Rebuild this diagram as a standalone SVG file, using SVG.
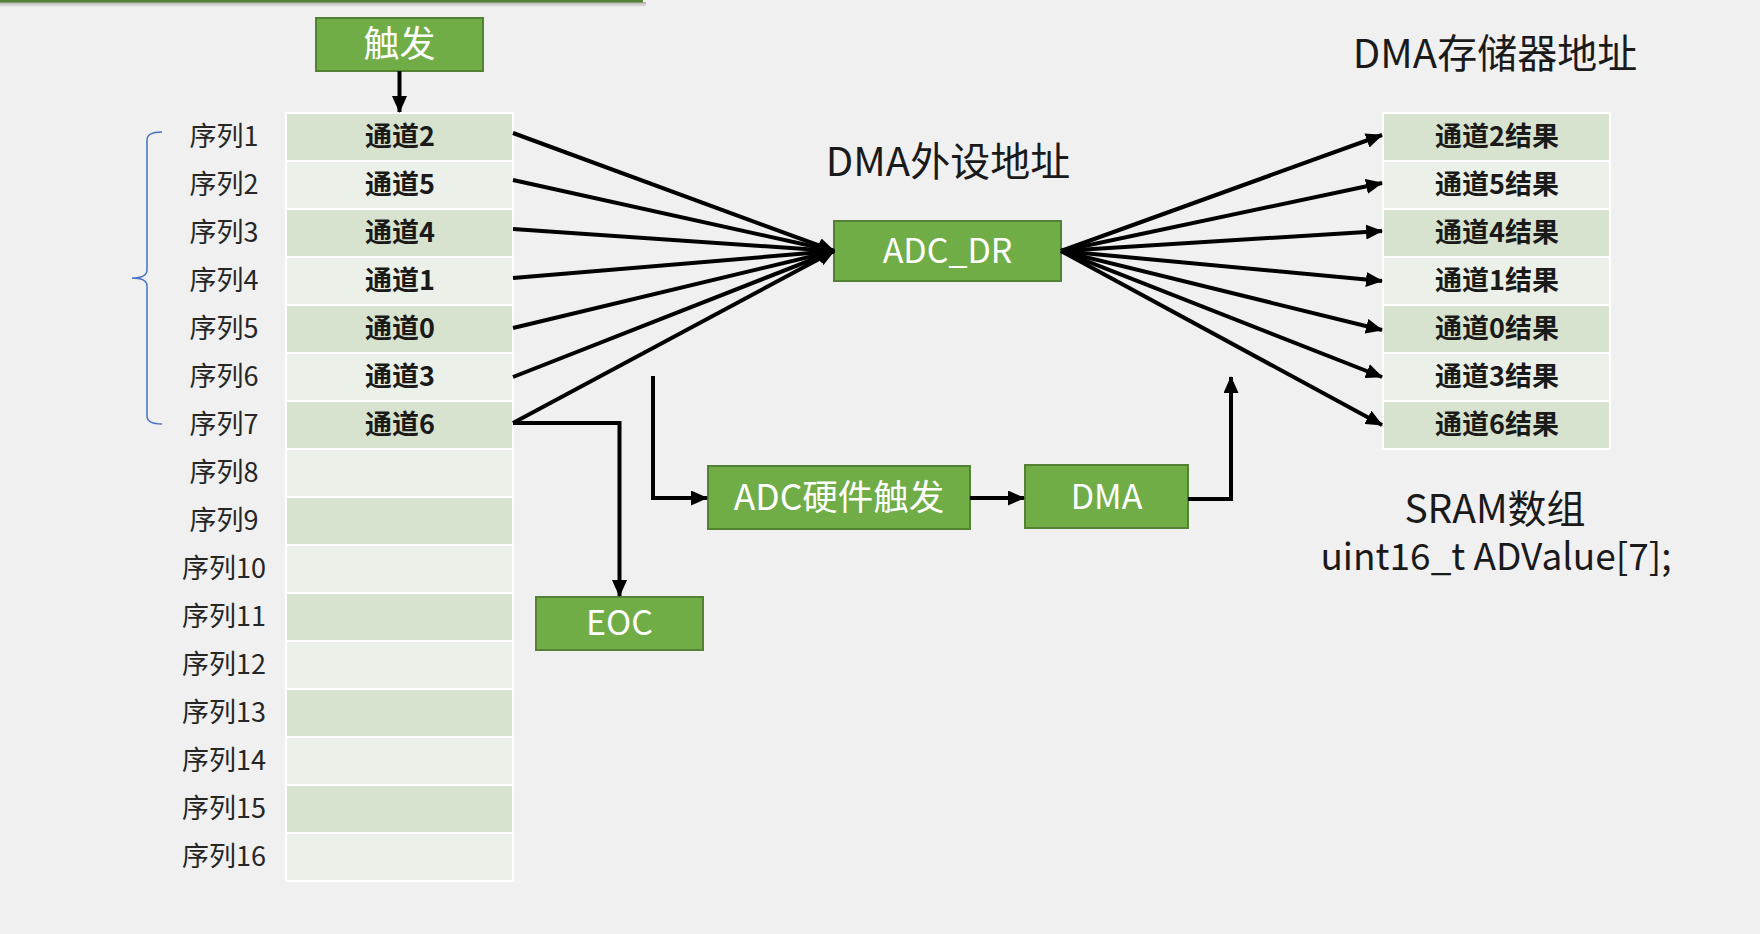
<svg xmlns="http://www.w3.org/2000/svg" width="1760" height="934" viewBox="0 0 1760 934">
<style>
.bg{fill:#F0F0F0}
.d{fill:#D7E3CF;stroke:#FFFFFF;stroke-width:2}
.l{fill:#EBF1E8;stroke:#FFFFFF;stroke-width:2}
.box{fill:#70AD47;stroke:#548235;stroke-width:2}
.bt{font-family:"Noto Sans CJK SC","Liberation Sans",sans-serif;font-size:34px;fill:#FFFFFF;text-anchor:middle}
.seq{font-family:"Noto Sans CJK SC","Liberation Sans",sans-serif;font-size:27px;fill:#262626;text-anchor:middle}
.ch{font-family:"Noto Sans CJK SC","Liberation Sans",sans-serif;font-size:27px;font-weight:bold;fill:#1A1A1A;text-anchor:middle}
.ttl{font-family:"Noto Sans CJK SC","Liberation Sans",sans-serif;font-size:40px;fill:#1A1A1A;text-anchor:middle}
.sr{font-family:"Noto Sans CJK SC","Liberation Sans",sans-serif;font-size:39px;fill:#1A1A1A;text-anchor:middle}
.ln{stroke:#000000;stroke-width:4;fill:none;marker-end:url(#ah)}
</style>
<defs>
<marker id="ah" markerUnits="userSpaceOnUse" markerWidth="17" markerHeight="15" viewBox="0 0 17 15" refX="16" refY="7.5" orient="auto">
<path d="M0,0 L17,7.5 L0,15 Z" fill="#000000"/>
</marker>
<linearGradient id="sh" x1="0" y1="0" x2="0" y2="1">
<stop offset="0" stop-color="#7F7F7F" stop-opacity="0.6"/>
<stop offset="1" stop-color="#7F7F7F" stop-opacity="0"/>
</linearGradient>
</defs>
<rect class="bg" x="0" y="0" width="1760" height="934"/>
<g id="topbar">
<rect x="0" y="2" width="646" height="5" fill="url(#sh)"/>
<rect x="0" y="0" width="643" height="2.5" fill="#548235"/>
</g>

<g id="brace">
<path d="M162,132 Q147,132 147,140 L147,270 Q147,278 132,278 Q147,278 147,286 L147,416 Q147,424 162,424" fill="none" stroke="#4472C4" stroke-width="1.5"/>
</g>

<g id="seq-table">
<rect class="d" x="286" y="113" width="227" height="48"/>
<rect class="l" x="286" y="161" width="227" height="48"/>
<rect class="d" x="286" y="209" width="227" height="48"/>
<rect class="l" x="286" y="257" width="227" height="48"/>
<rect class="d" x="286" y="305" width="227" height="48"/>
<rect class="l" x="286" y="353" width="227" height="48"/>
<rect class="d" x="286" y="401" width="227" height="48"/>
<rect class="l" x="286" y="449" width="227" height="48"/>
<rect class="d" x="286" y="497" width="227" height="48"/>
<rect class="l" x="286" y="545" width="227" height="48"/>
<rect class="d" x="286" y="593" width="227" height="48"/>
<rect class="l" x="286" y="641" width="227" height="48"/>
<rect class="d" x="286" y="689" width="227" height="48"/>
<rect class="l" x="286" y="737" width="227" height="48"/>
<rect class="d" x="286" y="785" width="227" height="48"/>
<rect class="l" x="286" y="833" width="227" height="48"/>
<text class="ch" x="400" y="146">通道2</text>
<text class="ch" x="400" y="194">通道5</text>
<text class="ch" x="400" y="242">通道4</text>
<text class="ch" x="400" y="290">通道1</text>
<text class="ch" x="400" y="338">通道0</text>
<text class="ch" x="400" y="386">通道3</text>
<text class="ch" x="400" y="434">通道6</text>
</g>

<g id="seq-labels">
<text class="seq" x="224" y="146">序列1</text>
<text class="seq" x="224" y="194">序列2</text>
<text class="seq" x="224" y="242">序列3</text>
<text class="seq" x="224" y="290">序列4</text>
<text class="seq" x="224" y="338">序列5</text>
<text class="seq" x="224" y="386">序列6</text>
<text class="seq" x="224" y="434">序列7</text>
<text class="seq" x="224" y="482">序列8</text>
<text class="seq" x="224" y="530">序列9</text>
<text class="seq" x="224" y="578">序列10</text>
<text class="seq" x="224" y="626">序列11</text>
<text class="seq" x="224" y="674">序列12</text>
<text class="seq" x="224" y="722">序列13</text>
<text class="seq" x="224" y="770">序列14</text>
<text class="seq" x="224" y="818">序列15</text>
<text class="seq" x="224" y="866">序列16</text>
</g>

<g id="result-table">
<rect class="d" x="1383" y="113" width="227" height="48"/>
<rect class="l" x="1383" y="161" width="227" height="48"/>
<rect class="d" x="1383" y="209" width="227" height="48"/>
<rect class="l" x="1383" y="257" width="227" height="48"/>
<rect class="d" x="1383" y="305" width="227" height="48"/>
<rect class="l" x="1383" y="353" width="227" height="48"/>
<rect class="d" x="1383" y="401" width="227" height="48"/>
<text class="ch" x="1497" y="146">通道2结果</text>
<text class="ch" x="1497" y="194">通道5结果</text>
<text class="ch" x="1497" y="242">通道4结果</text>
<text class="ch" x="1497" y="290">通道1结果</text>
<text class="ch" x="1497" y="338">通道0结果</text>
<text class="ch" x="1497" y="386">通道3结果</text>
<text class="ch" x="1497" y="434">通道6结果</text>
</g>

<g id="titles">
<text class="ttl" x="948" y="176">DMA外设地址</text>
<text class="ttl" x="1495" y="68">DMA存储器地址</text>
<text class="sr" x="1495" y="523">SRAM数组</text>
<text class="sr" x="1496" y="570" style="font-size:37px">uint16_t ADValue[7];</text>
</g>

<g id="node-trigger">
<rect class="box" x="316" y="18" width="167" height="53"/>
<text class="bt" x="399.5" y="57" style="font-size:36px">触发</text>
</g>
<g id="node-adcdr">
<rect class="box" x="834" y="221" width="227" height="60"/>
<text class="bt" x="947.5" y="263">ADC_DR</text>
</g>
<g id="node-adchw">
<rect class="box" x="708" y="466" width="262" height="63"/>
<text class="bt" x="839" y="510" style="font-size:35.5px">ADC硬件触发</text>
</g>
<g id="node-dma">
<rect class="box" x="1025" y="465" width="163" height="63"/>
<text class="bt" x="1106.5" y="509">DMA</text>
</g>
<g id="node-eoc">
<rect class="box" x="536" y="597" width="167" height="53"/>
<text class="bt" x="619.5" y="635">EOC</text>
</g>

<g id="connectors">
<line class="ln" x1="399.5" y1="71" x2="399.5" y2="112"/>
<line class="ln" x1="513" y1="133" x2="834" y2="251"/>
<line class="ln" x1="513" y1="180" x2="834" y2="251"/>
<line class="ln" x1="513" y1="229" x2="834" y2="251"/>
<line class="ln" x1="513" y1="278" x2="834" y2="251"/>
<line class="ln" x1="513" y1="328" x2="834" y2="251"/>
<line class="ln" x1="513" y1="377" x2="834" y2="251"/>
<line class="ln" x1="513" y1="423" x2="834" y2="251"/>
<line class="ln" x1="1061" y1="251" x2="1382" y2="135"/>
<line class="ln" x1="1061" y1="251" x2="1382" y2="183"/>
<line class="ln" x1="1061" y1="251" x2="1382" y2="231"/>
<line class="ln" x1="1061" y1="251" x2="1382" y2="281"/>
<line class="ln" x1="1061" y1="251" x2="1382" y2="330"/>
<line class="ln" x1="1061" y1="251" x2="1382" y2="377"/>
<line class="ln" x1="1061" y1="251" x2="1382" y2="425"/>
<polyline class="ln" points="513,423 619.5,423 619.5,596"/>
<polyline class="ln" points="653,376 653,498 707,498"/>
<line class="ln" x1="970" y1="498" x2="1024" y2="498"/>
<polyline class="ln" points="1188,499 1231,499 1231,377"/>
</g>
</svg>
